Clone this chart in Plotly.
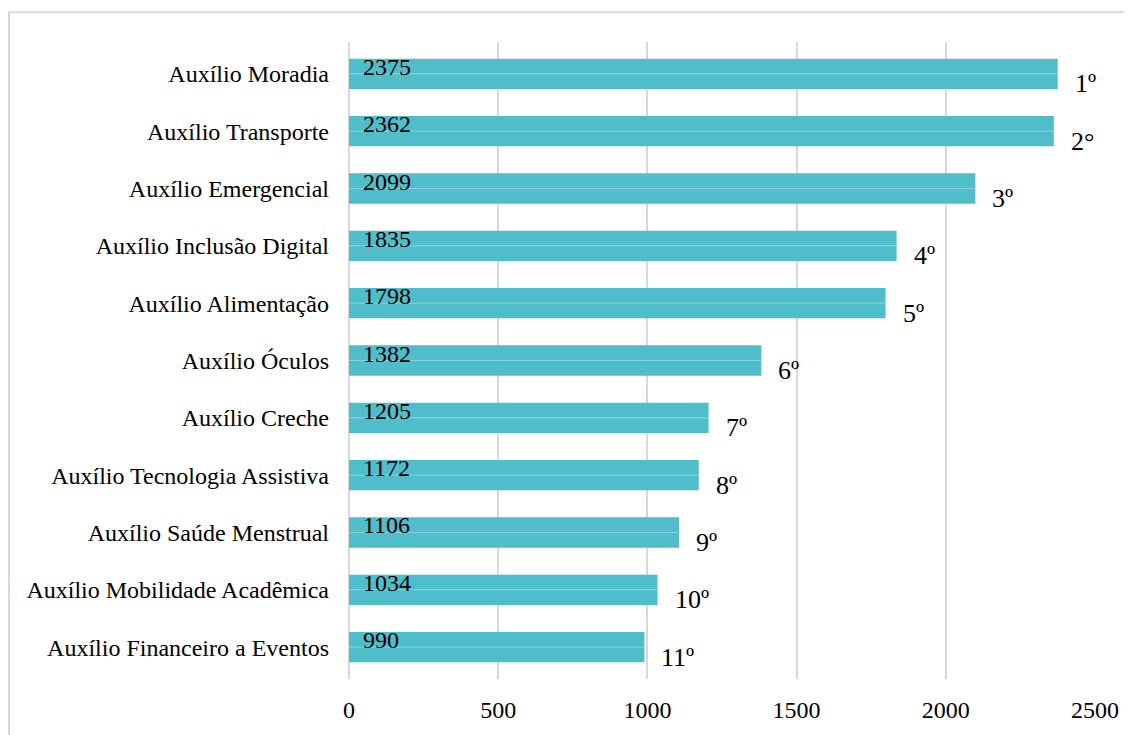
import plotly.graph_objects as go

# data (top to bottom)
auxilios = [
    "Auxílio Moradia",
    "Auxílio Transporte",
    "Auxílio Emergencial",
    "Auxílio Inclusão Digital",
    "Auxílio Alimentação",
    "Auxílio Óculos",
    "Auxílio Creche",
    "Auxílio Tecnologia Assistiva",
    "Auxílio Saúde Menstrual",
    "Auxílio Mobilidade Acadêmica",
    "Auxílio Financeiro a Eventos",
]
valores = [2375, 2362, 2099, 1835, 1798, 1382, 1205, 1172, 1106, 1034, 990]
posicoes = ["1º", "2°", "3º", "4º", "5º", "6º", "7º", "8º", "9º", "10º", "11º"]

FONT = "Liberation Serif, Times New Roman, serif"
BAR_COLOR = "#4FBDCA"

fig = go.Figure()

fig.add_trace(go.Bar(
    x=valores,
    y=auxilios,
    orientation="h",
    marker=dict(color=BAR_COLOR, line=dict(width=0)),
    width=0.53,
    hoverinfo="x+y",
))

# faint light line through the middle of each bar
for nome, v in zip(auxilios, valores):
    fig.add_trace(go.Scatter(
        x=[0, v], y=[nome, nome],
        mode="lines",
        line=dict(color="#8CD4DD", width=1),
        hoverinfo="skip",
        showlegend=False,
    ))

annotations = []
for nome, v, p in zip(auxilios, valores, posicoes):
    # value inside the bar, upper left
    annotations.append(dict(
        x=0, y=nome, text=str(v), showarrow=False,
        xanchor="left", yanchor="middle", xshift=12, yshift=7,
        font=dict(family=FONT, size=24, color="black"),
    ))
    # ranking after the bar end
    annotations.append(dict(
        x=v, y=nome, text=p, showarrow=False,
        xanchor="left", yanchor="middle", xshift=15, yshift=-10,
        font=dict(family=FONT, size=26, color="black"),
    ))

# page body adds an 8px offset, so the figure is 8px smaller on each axis
fig.update_layout(
    width=1124,
    height=727,
    margin=dict(l=341, r=37, t=34, b=51),
    plot_bgcolor="white",
    paper_bgcolor="white",
    showlegend=False,
    bargap=0.47,
    font=dict(family=FONT, size=24, color="black"),
    annotations=annotations,
    xaxis=dict(
        range=[0, 2500],
        tickvals=[0, 500, 1000, 1500, 2000, 2500],
        showgrid=True,
        gridcolor="#D9D9D9",
        gridwidth=2,
        zeroline=True,
        zerolinecolor="#D9D9D9",
        zerolinewidth=2,
        showline=False,
        ticklabelstandoff=14,
        tickfont=dict(family=FONT, size=24, color="black"),
        fixedrange=True,
    ),
    yaxis=dict(
        autorange="reversed",
        showgrid=False,
        showline=False,
        ticklabelstandoff=19,
        tickfont=dict(family=FONT, size=24, color="black"),
        fixedrange=True,
    ),
    # outer frame of the chart (left and top edges visible)
    shapes=[dict(
        type="rect", xref="paper", yref="paper",
        x0=(1 - 341) / 746, x1=1.1,
        y0=-0.1, y1=1 + 30 / 642,
        line=dict(color="#D9D9D9", width=2),
        fillcolor="rgba(0,0,0,0)",
        layer="below",
    )],
)

fig.write_html("out.html")
